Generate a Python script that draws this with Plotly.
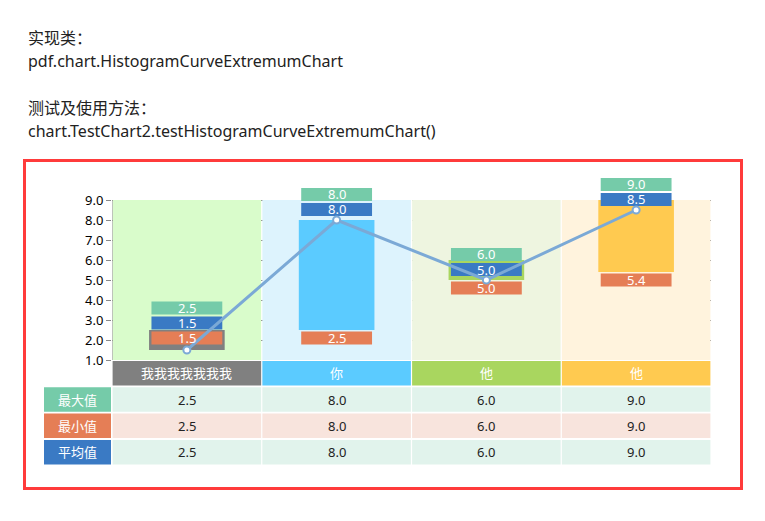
import plotly.graph_objects as go

# ---------------- data ----------------
categories = ["我我我我我我我", "你", "他", "他"]
max_values = [2.5, 8.0, 6.0, 9.0]
min_values = [1.5, 2.5, 5.0, 5.4]
avg_values = [1.5, 8.0, 5.0, 8.5]
y_ticks = [1.0, 2.0, 3.0, 4.0, 5.0, 6.0, 7.0, 8.0, 9.0]
row_names = ["最大值", "最小值", "平均值"]
table_max = ["2.5", "8.0", "6.0", "9.0"]
table_min = ["2.5", "8.0", "6.0", "9.0"]
table_avg = ["2.5", "8.0", "6.0", "9.0"]
title_lines = ["实现类：", "pdf.chart.HistogramCurveExtremumChart",
               "测试及使用方法：", "chart.TestChart2.testHistogramCurveExtremumChart()"]

# ---------------- style ----------------
W, H = 765, 521
FONT = "Noto Sans, Noto Sans CJK SC, sans-serif"
cat_colors = ["#808080", "#5BCBFF", "#A9D65F", "#FFCA50"]
band_colors = ["#D9FCCB", "#DDF3FD", "#EEF5E0", "#FFF3DD"]
c_max, c_min, c_avg = "#75CBA9", "#E57E56", "#3A7AC4"
row_colors = [c_max, c_min, c_avg]
row_bg = ["#E1F3EC", "#F8E4DD", "#E1F3EC"]
line_color = "#7BA9D6"
grid_color = "#8A8A8A"


def px_x(p):
    return p / W


def px_y(p):
    return 1 - p / H


def text(x, y, s, xref, yref, size=13, color="white", xanchor="center"):
    fig.add_annotation(x=x, y=y, xref=xref, yref=yref, text=s, showarrow=False,
                       xanchor=xanchor, yanchor="middle",
                       font=dict(family=FONT, size=size, color=color))


Y0, Y1 = 1.0, 9.0          # visible value scale
Y_TOP = 10.3               # extra headroom for the stacked labels
PLOT_BOT = 360
unit_px = 20.0
PLOT_TOP = PLOT_BOT - (Y_TOP - Y0) * unit_px
LBL_H = 13.2 / unit_px
GAP = 1.8 / unit_px

# label layout (from data, with simple collision handling)
min_c, avg_c, max_c = [], [], []
for mn, mx, av in zip(min_values, max_values, avg_values):
    oc = mn - 8 / unit_px
    if oc - LBL_H / 2 < Y0:
        oc = mx - 8 / unit_px
    bc = av + 10.5 / unit_px
    if bc - LBL_H / 2 < oc + LBL_H / 2 + GAP:
        bc = oc + LBL_H + GAP
    gc = bc + LBL_H + GAP
    min_c.append(oc)
    avg_c.append(bc)
    max_c.append(gc)

xs = list(range(len(categories)))
fig = go.Figure()

# main bars (min -> max)
fig.add_trace(go.Bar(
    x=xs, y=[a - b for a, b in zip(max_values, min_values)], base=min_values,
    width=0.505, marker=dict(color=cat_colors, line=dict(width=0)),
    hoverinfo="skip", showlegend=False))

# label boxes
for centers, vals, col in [(min_c, min_values, c_min), (avg_c, avg_values, c_avg),
                           (max_c, max_values, c_max)]:
    fig.add_trace(go.Bar(
        x=xs, y=[LBL_H] * len(xs), base=[c - LBL_H / 2 for c in centers],
        width=0.473, marker=dict(color=col, line=dict(width=0)),
        hoverinfo="skip", showlegend=False))
    for i, (c, v) in enumerate(zip(centers, vals)):
        text(i, c, f"{v:.1f}", "x", "y")

# average curve
fig.add_trace(go.Scatter(
    x=xs, y=avg_values, mode="lines+markers",
    line=dict(color=line_color, width=3),
    marker=dict(size=7, color="white", line=dict(color=line_color, width=2)),
    cliponaxis=False, hoverinfo="skip", showlegend=False))

# background bands
for i, bc in enumerate(band_colors):
    fig.add_shape(type="rect", xref="x", yref="y", x0=i - 0.5 + 0.004, x1=i + 0.5 - 0.004,
                  y0=Y0, y1=Y1, fillcolor=bc, line=dict(width=0), layer="between")

# y axis line (only over the value scale)
fig.add_shape(type="line", xref="x", yref="y", x0=-0.5, x1=-0.5, y0=Y0, y1=Y1,
              line=dict(color=grid_color, width=1))

# ---------------- table ----------------
HDR_TOP, ROW_H, PITCH = 361, 24.5, 26.3
for i, (cat, col) in enumerate(zip(categories, cat_colors)):
    fig.add_shape(type="rect", xref="x", yref="paper", x0=i - 0.5 + 0.004, x1=i + 0.5 - 0.004,
                  y0=px_y(HDR_TOP + ROW_H), y1=px_y(HDR_TOP), fillcolor=col, line=dict(width=0))
    text(i, px_y(HDR_TOP + ROW_H / 2), cat, "x", "paper")

for r, (name, rc, bg, vals) in enumerate(zip(row_names, row_colors, row_bg,
                                             [table_max, table_min, table_avg])):
    top = HDR_TOP + PITCH * (r + 1)
    fig.add_shape(type="rect", xref="paper", yref="paper", x0=px_x(44), x1=px_x(111),
                  y0=px_y(top + ROW_H), y1=px_y(top), fillcolor=rc, line=dict(width=0))
    text(px_x(77.5), px_y(top + ROW_H / 2), name, "paper", "paper")
    for i, v in enumerate(vals):
        fig.add_shape(type="rect", xref="x", yref="paper", x0=i - 0.5 + 0.004,
                      x1=i + 0.5 - 0.004, y0=px_y(top + ROW_H), y1=px_y(top),
                      fillcolor=bg, line=dict(width=0))
        text(i, px_y(top + ROW_H / 2), v, "x", "paper", color="#222")

# ---------------- titles & frame ----------------
for txt, yc in zip(title_lines, [38, 61, 108, 131]):
    text(px_x(26), px_y(yc), txt, "paper", "paper", size=16, color="#222", xanchor="left")

fig.add_shape(type="rect", xref="paper", yref="paper", x0=px_x(24.5), x1=px_x(741.5),
              y0=px_y(488.5), y1=px_y(160.5), line=dict(color="#FF3B3B", width=3),
              fillcolor="rgba(0,0,0,0)")

fig.update_layout(
    template="none",
    width=W, height=H, autosize=False,
    margin=dict(l=0, r=0, t=0, b=0, pad=0, autoexpand=False),
    paper_bgcolor="white", plot_bgcolor="white", barmode="overlay", showlegend=False,
    font=dict(family=FONT, size=13, color="#000"),
    xaxis=dict(domain=[px_x(112), px_x(711)], range=[-0.5, len(categories) - 0.5],
               showgrid=False, zeroline=False, showticklabels=False, showline=False,
               ticks="", automargin=False, fixedrange=True),
    yaxis=dict(domain=[px_y(PLOT_BOT), px_y(PLOT_TOP)], range=[Y0, Y_TOP],
               tickvals=y_ticks, ticktext=[f"{t:.1f}" for t in y_ticks],
               showgrid=True, gridcolor=grid_color, gridwidth=1, griddash="9px,3px,3px,3px",
               zeroline=False, showline=False,
               ticks="outside", ticklen=5, tickcolor=grid_color, tickwidth=1,
               tickfont=dict(family=FONT, size=13, color="#000"),
               automargin=False, fixedrange=True),
)

fig.write_html("out.html", config={"displayModeBar": False})
